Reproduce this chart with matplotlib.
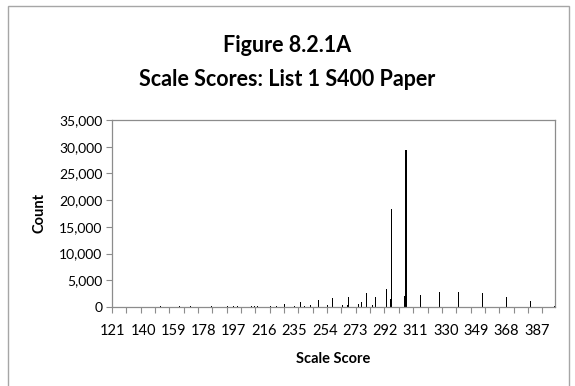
import matplotlib
matplotlib.use("Agg")
import matplotlib.pyplot as plt
from matplotlib.patches import Rectangle
from matplotlib.ticker import FixedLocator, FuncFormatter

# ── data (scale score -> count) ──
scores = [121, 151, 163, 170, 183, 193, 197, 199, 208, 210, 212, 220, 224,
          229, 235, 239, 241, 245, 250, 256, 259, 265, 268, 269, 275, 277,
          280, 284, 286, 293, 295, 296, 304, 305, 314, 326, 338, 353, 368,
          383, 398]
counts = [100, 150, 150, 200, 200, 150, 200, 150, 200, 150, 200, 200, 200,
          650, 200, 850, 250, 350, 1400, 300, 1650, 300, 300, 1850, 600, 950,
          2550, 350, 1850, 3350, 1550, 18300, 2100, 29300, 2300, 2800, 2800,
          2550, 1800, 1050, 250]

first_score, last_score = 121, 398
label_scores = list(range(121, 388, 19))
y_ticks = list(range(0, 35001, 5000))

FONT = "Lato"
AXIS_GREY = "#8c8c8c"

fig = plt.figure(figsize=(5.75, 3.86), dpi=100, facecolor="white")
ax = fig.add_axes([112 / 575, 1 - 307 / 386, 443 / 575, 187 / 386])

ax.bar(scores, counts, width=0.65, color="black", linewidth=0)

ax.set_xlim(first_score - 0.5, last_score + 0.5)
ax.set_ylim(0, 35000)

# category labels every 19 scores, tick marks every 9 categories
ax.xaxis.set_major_locator(FixedLocator(label_scores))
ax.xaxis.set_minor_locator(FixedLocator([first_score - 0.5 + 9 * k for k in range(31)]))
ax.tick_params(axis="x", which="major", length=0, pad=12, labelsize=10.5,
               labelcolor="black")
ax.tick_params(axis="x", which="minor", length=4, width=0.8, color=AXIS_GREY,
               direction="out")

ax.set_yticks(y_ticks)
ax.yaxis.set_major_formatter(FuncFormatter(lambda v, p: f"{int(v):,}"))
ax.tick_params(axis="y", length=4, width=0.8, color=AXIS_GREY, pad=3,
               labelsize=10)

for lab in ax.get_xticklabels() + ax.get_yticklabels():
    lab.set_fontfamily(FONT)

for side in ["left", "bottom", "top", "right"]:
    ax.spines[side].set_color(AXIS_GREY)
    ax.spines[side].set_linewidth(0.9)

# ── titles & axis labels ──
fig.text(0.5, 1 - 45 / 386, "Figure 8.2.1A", ha="center", va="center",
         fontsize=15.5, fontweight="bold", family=FONT)
fig.text(0.5, 1 - 79 / 386, "Scale Scores: List 1 S400 Paper", ha="center",
         va="center", fontsize=15.5, fontweight="bold", family=FONT)
fig.text(333 / 575, 1 - 359 / 386, "Scale Score", ha="center", va="center",
         fontsize=10.5, fontweight="bold", family=FONT)
fig.text(40 / 575, 1 - 213 / 386, "Count", ha="center", va="center",
         rotation=90, fontsize=10.5, fontweight="bold", family=FONT)

# chart-area border (cut off at the bottom)
fig.patches.append(Rectangle((8 / 575, -0.1), 561 / 575, 1.1 - 6 / 386,
                             transform=fig.transFigure, fill=False,
                             edgecolor="#a6a6a6", linewidth=1.0))

fig.savefig("out.png", dpi=100, facecolor="white")
